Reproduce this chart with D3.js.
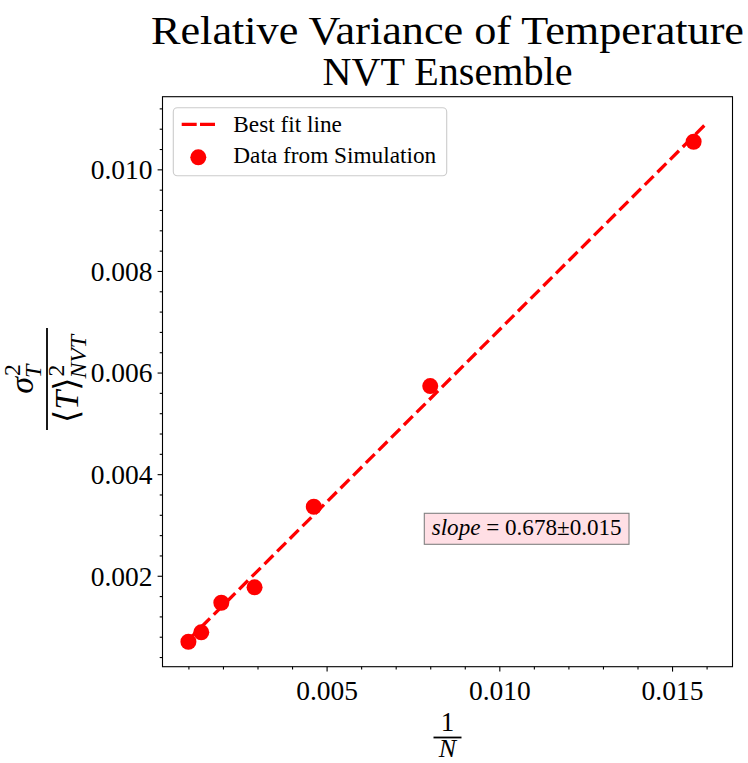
<!DOCTYPE html>
<html><head><meta charset="utf-8">
<script src="https://cdn.jsdelivr.net/npm/d3@7"></script>
<style>body{margin:0;background:#fff} svg{display:block}</style>
</head><body><svg id="c" width="748" height="763"></svg>
<script>
// ---- data ----
const titleLines = ["Relative Variance of Temperature", "NVT Ensemble"];
const invN = [0.001, 0.001372, 0.001953, 0.002915, 0.00463, 0.008, 0.015625];
const relVar = [0.000701, 0.000886, 0.001469, 0.001772, 0.003358, 0.005734, 0.010543];
const fitSlope = 0.678;
const fitIntercept = 0.00006;
const fitXRange = [0.001, 0.016];
const xTicks = [0.005, 0.010, 0.015];
const xTickLabels = ["0.005", "0.010", "0.015"];
const yTicks = [0.002, 0.004, 0.006, 0.008, 0.010];
const yTickLabels = ["0.002", "0.004", "0.006", "0.008", "0.010"];
const legendLabels = ["Best fit line", "Data from Simulation"];
const slopeText = ["slope", " = 0.678\u00B10.015"];

// ---- layout ----
const svg = d3.select("#c");
const M = {left: 162.5, top: 96.7, w: 570, h: 570};
const x = d3.scaleLinear().domain([0.00025, 0.01675]).range([M.left, M.left + M.w]);
const y = d3.scaleLinear().domain([0.00021, 0.01143]).range([M.top + M.h, M.top]);
const serif = "'Liberation Serif','DejaVu Serif',serif";
const red = "#ff0000";

function fitText(t, target) {
  const w = t.node().getComputedTextLength();
  const fs = parseFloat(t.attr("font-size"));
  const nfs = fs * target / w;
  t.attr("font-size", nfs);
  return nfs;
}

// ---- title ----
svg.append("text").attr("x", M.left + M.w / 2).attr("y", 44)
  .attr("text-anchor", "middle").attr("font-family", serif).attr("font-size", 40)
  .attr("textLength", 593).attr("lengthAdjust", "spacingAndGlyphs")
  .text(titleLines[0]);
svg.append("text").attr("x", M.left + M.w / 2).attr("y", 85)
  .attr("text-anchor", "middle").attr("font-family", serif).attr("font-size", 40)
  .attr("textLength", 250).attr("lengthAdjust", "spacingAndGlyphs")
  .text(titleLines[1]);

// ---- axes ----
const xMinor = d3.range(1, 17).map(d => d * 0.001).filter(v => !xTicks.some(t => Math.abs(t - v) < 1e-9));
const yMinor = d3.range(1, 29).map(d => d * 0.0004).filter(v => !yTicks.some(t => Math.abs(t - v) < 1e-9) && v >= 0.00021 && v <= 0.01143);

const gx = svg.append("g").attr("transform", `translate(0,${M.top + M.h})`);
gx.call(d3.axisBottom(x).tickValues(xMinor).tickSize(2.8).tickFormat(""));
gx.call(g => g.select(".domain").remove());
const gx2 = svg.append("g").attr("transform", `translate(0,${M.top + M.h})`);
gx2.call(d3.axisBottom(x).tickValues(xTicks).tickSize(4.9).tickPadding(4.9)
  .tickFormat((d, i) => xTickLabels[i]));
gx2.select(".domain").remove();
gx2.selectAll("text").attr("font-family", serif).attr("font-size", 27.5)
  .attr("fill", "#000").attr("dy", 0).attr("y", 33.5);

const gy = svg.append("g").attr("transform", `translate(${M.left},0)`);
gy.call(d3.axisLeft(y).tickValues(yMinor).tickSize(2.8).tickFormat(""));
gy.select(".domain").remove();
const gy2 = svg.append("g").attr("transform", `translate(${M.left},0)`);
gy2.call(d3.axisLeft(y).tickValues(yTicks).tickSize(4.9).tickPadding(4.9)
  .tickFormat((d, i) => yTickLabels[i]));
gy2.select(".domain").remove();
gy2.selectAll("text").attr("font-family", serif).attr("font-size", 27.5)
  .attr("fill", "#000").attr("dy", "0.34em").attr("x", -10);
svg.selectAll(".tick line").attr("stroke", "#000").attr("stroke-width", 1.1);

// ---- plot ----
const plot = svg.append("g");
plot.append("defs").append("clipPath").attr("id", "clip").append("rect")
  .attr("x", M.left).attr("y", M.top).attr("width", M.w).attr("height", M.h);
const fitPts = fitXRange.map(v => [v, fitSlope * v + fitIntercept]);
plot.append("path").attr("clip-path", "url(#clip)")
  .attr("d", d3.line().x(d => x(d[0])).y(d => y(d[1]))(fitPts))
  .attr("fill", "none").attr("stroke", red).attr("stroke-width", 3.3)
  .attr("stroke-dasharray", "12.5,5.4");
plot.selectAll("circle.pt").data(invN).join("circle").attr("class", "pt")
  .attr("cx", d => x(d)).attr("cy", (d, i) => y(relVar[i])).attr("r", 8)
  .attr("fill", red);

// frame
svg.append("rect").attr("x", M.left).attr("y", M.top).attr("width", M.w).attr("height", M.h)
  .attr("fill", "none").attr("stroke", "#000").attr("stroke-width", 1.1);

// ---- legend ----
const lg = svg.append("g");
lg.append("rect").attr("x", 173.3).attr("y", 107.7).attr("width", 273.4).attr("height", 68)
  .attr("rx", 4).attr("fill", "#fff").attr("fill-opacity", 0.8)
  .attr("stroke", "#cccccc").attr("stroke-width", 1.1);
lg.append("line").attr("x1", 181.7).attr("x2", 215).attr("y1", 124.3).attr("y2", 124.3)
  .attr("stroke", red).attr("stroke-width", 3.3).attr("stroke-dasharray", "15,3.3");
lg.append("circle").attr("cx", 198.3).attr("cy", 157.3).attr("r", 8).attr("fill", red);
const lt2 = lg.append("text").attr("x", 233.3).attr("y", 163.3).attr("font-family", serif)
  .attr("font-size", 20).text(legendLabels[1]);
const lfs = fitText(lt2, 203);
lg.append("text").attr("x", 233.3).attr("y", 131.7).attr("font-family", serif)
  .attr("font-size", lfs).text(legendLabels[0]);

// ---- slope box ----
svg.append("rect").attr("x", 424.3).attr("y", 513.3).attr("width", 204.7).attr("height", 31)
  .attr("fill", "#ffdfe5").attr("stroke", "#808080").attr("stroke-width", 1.1);
const st = svg.append("text").attr("x", 431.7).attr("y", 535).attr("font-family", serif)
  .attr("font-size", 21);
st.append("tspan").attr("font-style", "italic").text(slopeText[0]);
st.append("tspan").text(slopeText[1]);
fitText(st, 190);

// ---- x label: 1/N ----
const cxl = M.left + M.w / 2;
svg.append("text").attr("x", cxl).attr("y", 731).attr("text-anchor", "middle")
  .attr("font-family", serif).attr("font-size", 27).text("1");
svg.append("line").attr("x1", cxl - 14).attr("x2", cxl + 14).attr("y1", 737.5).attr("y2", 737.5)
  .attr("stroke", "#000").attr("stroke-width", 1.8);
svg.append("text").attr("x", cxl).attr("y", 757).attr("text-anchor", "middle")
  .attr("font-family", serif).attr("font-style", "italic").attr("font-size", 26).text("N");

// ---- y label: sigma_T^2 / <T>^2_NVT (rotated) ----
const yl = svg.append("g").attr("transform", "translate(47,379) rotate(-90)");
yl.append("line").attr("x1", -51).attr("x2", 51).attr("y1", 0).attr("y2", 0)
  .attr("stroke", "#000").attr("stroke-width", 1.8);

function scripted(g, baseParts, sup, sub, fs, baseY, supDy, subDy) {
  const grp = g.append("g");
  const bt = grp.append("text").attr("font-family", serif).attr("font-size", fs).attr("y", baseY);
  baseParts.forEach(p => bt.append("tspan").attr("font-style", p[1] ? "italic" : "normal").text(p[0]));
  const bw = bt.node().getComputedTextLength();
  const sfs = fs * 0.7;
  const supT = grp.append("text").attr("font-family", serif).attr("font-size", sfs)
    .attr("x", bw + 1).attr("y", baseY + supDy).text(sup);
  const subT = grp.append("text").attr("font-family", serif).attr("font-size", sfs)
    .attr("font-style", "italic").attr("x", bw - 1).attr("y", baseY + subDy).text(sub);
  const tw = bw + Math.max(supT.node().getComputedTextLength() + 1, subT.node().getComputedTextLength() - 1);
  grp.attr("transform", `translate(${-tw / 2},0)`);
  return grp;
}
scripted(yl, [["\u03C3", true]], "2", "T", 34, -14, -13, 8);
scripted(yl, [["\u27E8", false], ["T", true], ["\u27E9", false]], "2", "NVT", 34, 31, -14, 8);
</script>
</body></html>
